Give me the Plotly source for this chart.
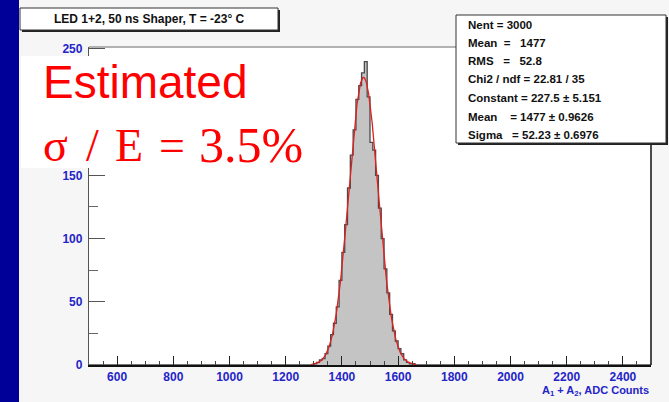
import plotly.graph_objects as go
import numpy as np

# ---------------- data ----------------
bin_width = 10
bin_low_edges = list(range(1290, 1660, 10))
counts = [0, 1, 2, 4, 5, 9, 15, 24, 33, 46, 67, 89, 111, 140, 166, 186, 210, 221, 231, 240,
          212, 176, 170, 150, 124, 100, 76, 57, 40, 27, 19, 13, 9, 4, 2, 1, 1]
fit_constant = 227.5
fit_mean = 1477
fit_sigma = 52.23
fit_range = [1290, 1665]
x_ticks = [600, 800, 1000, 1200, 1400, 1600, 1800, 2000, 2200, 2400]
y_ticks = [0, 50, 100, 150, 250]
title_text = "LED 1+2, 50 ns Shaper, T = -23° C"
stats_lines = [
    "Nent = 3000",
    "Mean\u00a0\u00a0=\u00a0\u00a0\u00a01477",
    "RMS\u00a0\u00a0\u00a0=\u00a0\u00a0\u00a052.8",
    "Chi2 / ndf = 22.81 / 35",
    "Constant = 227.5 ± 5.151",
    "Mean\u00a0\u00a0\u00a0\u00a0= 1477 ± 0.9626",
    "Sigma\u00a0\u00a0\u00a0= 52.23 ± 0.6976",
]
sigma_parts = ["σ", "/", "E", "=", "3.5%"]

# ---------------- geometry (pixels) ----------------
W, H = 669, 402
L, R, T, B = 89, 651, 47, 365


def px(x):
    return (x - L) / (R - L)


def py(y):
    return (B - y) / (B - T)


# step outline of histogram
xs = [500] + bin_low_edges + [bin_low_edges[-1] + bin_width, 2500]
ys = [0] + counts + [0, 0]

fig = go.Figure()
fig.add_trace(go.Scatter(
    x=xs, y=ys, mode="lines", line=dict(shape="hv", color="#4a4a4a", width=1.3),
    fill="tozeroy", fillcolor="#c4c4c4", hoverinfo="skip", showlegend=False))

xf = np.linspace(fit_range[0], fit_range[1], 300)
yf = fit_constant * np.exp(-0.5 * ((xf - fit_mean) / fit_sigma) ** 2)
fig.add_trace(go.Scatter(x=xf, y=yf, mode="lines", line=dict(color="#e02020", width=1.3),
                         hoverinfo="skip", showlegend=False))

tickfont = dict(family="Liberation Sans, Arial", size=12, color="#2424c8", weight="bold")
fig.update_xaxes(range=[500, 2500], tickvals=x_ticks, ticktext=[str(v) for v in x_ticks],
                 ticks="inside", ticklen=9, tickcolor="#222", tickwidth=1,
                 minor=dict(dtick=50, ticks="inside", ticklen=4, tickcolor="#444"),
                 showline=True, linecolor="#111", linewidth=1.5, mirror=False,
                 showgrid=False, zeroline=False, tickfont=tickfont)
fig.update_yaxes(range=[0, 251.5], tickvals=y_ticks, ticktext=[str(v) for v in y_ticks],
                 ticks="inside", ticklen=16, tickcolor="#555", tickwidth=1,
                 minor=dict(dtick=25, ticks="inside", ticklen=9, tickcolor="#666"),
                 showline=True, linecolor="#555", linewidth=1.3, mirror=False,
                 showgrid=False, zeroline=False, tickfont=tickfont, ticklabelstandoff=3)

shapes = []
# right frame and top frame
shapes.append(dict(type="line", xref="paper", yref="paper", x0=1, x1=1, y0=0, y1=1,
                   line=dict(color="#111", width=1.5)))
shapes.append(dict(type="line", xref="paper", yref="paper", x0=0, x1=1, y0=1, y1=1,
                   line=dict(color="#9a9a9a", width=1.5)))
# blue strip
shapes.append(dict(type="rect", xref="paper", yref="paper", x0=px(0), x1=px(19), y0=py(H), y1=py(0),
                   fillcolor="#000099", line=dict(width=0), layer="above"))
# white box behind red text
shapes.append(dict(type="rect", xref="paper", yref="paper", x0=px(21), x1=px(316), y0=py(168), y1=py(56),
                   fillcolor="white", line=dict(width=0), layer="above"))
# title box with shadow
shapes.append(dict(type="rect", xref="paper", yref="paper", x0=px(22), x1=px(280), y0=py(32), y1=py(10),
                   fillcolor="#222", line=dict(width=0), layer="above"))
shapes.append(dict(type="rect", xref="paper", yref="paper", x0=px(20), x1=px(278), y0=py(30), y1=py(8),
                   fillcolor="white", line=dict(color="#333", width=1), layer="above"))
# stats box with shadow
shapes.append(dict(type="rect", xref="paper", yref="paper", x0=px(458), x1=px(668), y0=py(145), y1=py(17),
                   fillcolor="#222", line=dict(width=0), layer="above"))
shapes.append(dict(type="rect", xref="paper", yref="paper", x0=px(456), x1=px(666), y0=py(143), y1=py(15),
                   fillcolor="white", line=dict(color="#333", width=1), layer="above"))

ann = []
ann.append(dict(x=px(149), y=py(19), xref="paper", yref="paper", text="<b>" + title_text + "</b>",
                showarrow=False, xanchor="center", yanchor="middle",
                font=dict(family="Liberation Sans, Arial", size=12, color="#111")))
line_y = [25, 43.3, 61, 79, 97.7, 116.7, 135]
for t, yy in zip(stats_lines, line_y):
    ann.append(dict(x=px(466), y=py(yy), xref="paper", yref="paper", text="<b>" + t + "</b>",
                    showarrow=False, xanchor="left", yanchor="middle",
                    font=dict(family="Liberation Sans, Arial", size=11.5, color="#111")))
ann.append(dict(x=px(41), y=py(82), xref="paper", yref="paper", text="Estimated",
                showarrow=False, xanchor="left", yanchor="middle",
                font=dict(family="Liberation Sans, Arial", size=46, color="#ff0000")))
part_x = [41, 84, 113, 157, 197]
part_size = [46, 46, 46, 46, 50]
for t, xx, sz in zip(sigma_parts, part_x, part_size):
    ann.append(dict(x=px(xx), y=py(145), xref="paper", yref="paper", text=t,
                    showarrow=False, xanchor="left", yanchor="middle",
                    font=dict(family="Liberation Serif, Times New Roman", size=sz, color="#ff0000")))
ann.append(dict(x=px(651), y=py(391), xref="paper", yref="paper",
                text="<b>A<sub>1</sub> + A<sub>2</sub>, ADC Counts</b>",
                showarrow=False, xanchor="right", yanchor="middle",
                font=dict(family="Liberation Sans, Arial", size=11, color="#2424c8")))

fig.update_layout(width=W, height=H, margin=dict(l=L, r=W - R, t=T, b=H - B),
                  paper_bgcolor="#f6f6f6", plot_bgcolor="white",
                  shapes=shapes, annotations=ann, showlegend=False)

fig.write_html("out.html")
